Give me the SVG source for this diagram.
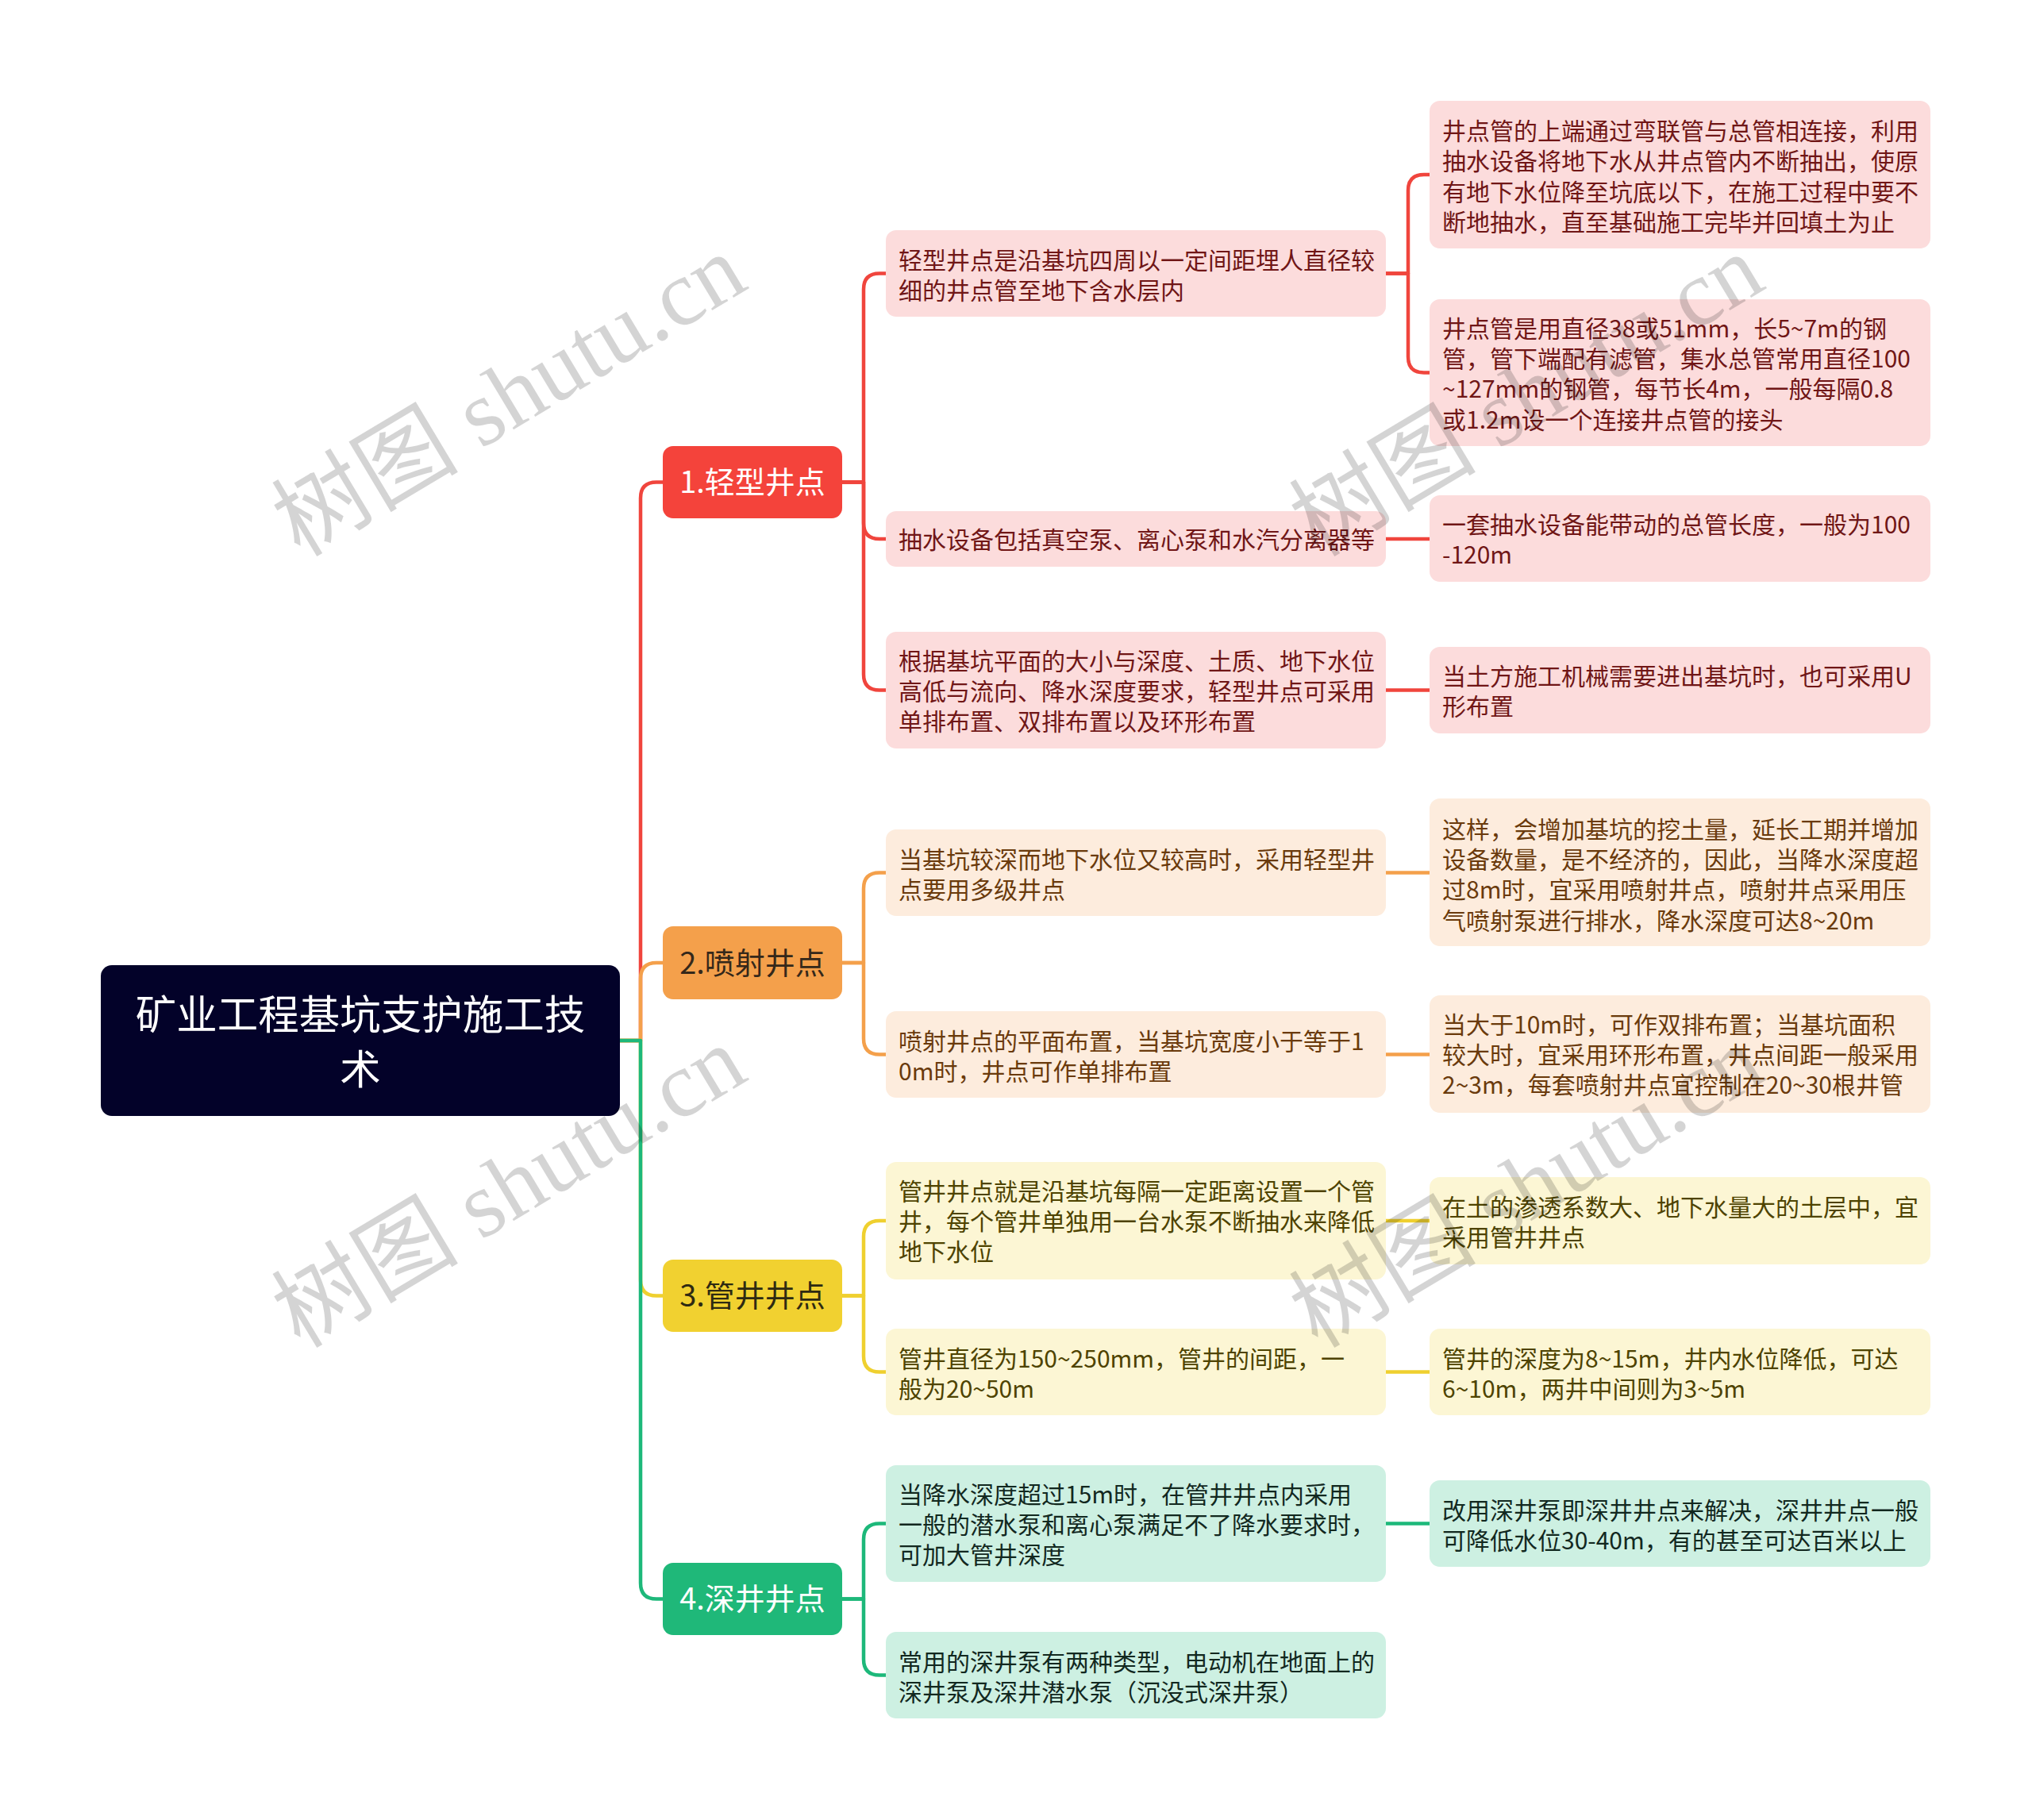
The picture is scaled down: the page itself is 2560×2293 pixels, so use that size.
<svg xmlns="http://www.w3.org/2000/svg" width="2560" height="2293" viewBox="0 0 2560 2293">
<style>
.t{font-family:"Noto Sans CJK SC","Noto Sans",sans-serif;}
.l2{font-size:30px;}
.c1 rect{fill:#fcdcdc;} .c1 text{fill:#701616;}
.c2 rect{fill:#fdecdd;} .c2 text{fill:#6a3a0c;}
.c3 rect{fill:#fcf6d4;} .c3 text{fill:#4e4300;}
.c4 rect{fill:#cdf0e2;} .c4 text{fill:#12281f;}
.ln{fill:none;stroke-width:4.5;stroke-linejoin:round;}
.wm{font-family:"Liberation Serif","Noto Sans CJK SC",serif;font-size:118px;fill:#000;fill-opacity:0.17;}
</style>
<rect width="2560" height="2293" fill="#ffffff"/>
<g id="connectors">
<path class="ln" stroke="#f0453d" d="M781 1311H807V627.5Q807 607.5 827 607.5H835"/>
<path class="ln" stroke="#f4a04b" d="M781 1311H807V1233Q807 1213 827 1213H835"/>
<path class="ln" stroke="#efd02f" d="M781 1311H807V1612.5Q807 1632.5 827 1632.5H835"/>
<path class="ln" stroke="#1db87a" d="M781 1311H807V1994.5Q807 2014.5 827 2014.5H835"/>
<path class="ln" stroke="#f0453d" d="M1061 607.5H1088V364.5Q1088 344.5 1108 344.5H1116"/>
<path class="ln" stroke="#f0453d" d="M1061 607.5H1088V659Q1088 679 1108 679H1116"/>
<path class="ln" stroke="#f0453d" d="M1061 607.5H1088V849.5Q1088 869.5 1108 869.5H1116"/>
<path class="ln" stroke="#f4a04b" d="M1061 1213H1088V1119.5Q1088 1099.5 1108 1099.5H1116"/>
<path class="ln" stroke="#f4a04b" d="M1061 1213H1088V1308.5Q1088 1328.5 1108 1328.5H1116"/>
<path class="ln" stroke="#efd02f" d="M1061 1632.5H1088V1558Q1088 1538 1108 1538H1116"/>
<path class="ln" stroke="#efd02f" d="M1061 1632.5H1088V1708.5Q1088 1728.5 1108 1728.5H1116"/>
<path class="ln" stroke="#1db87a" d="M1061 2014.5H1088V1939.5Q1088 1919.5 1108 1919.5H1116"/>
<path class="ln" stroke="#1db87a" d="M1061 2014.5H1088V2090.5Q1088 2110.5 1108 2110.5H1116"/>
<path class="ln" stroke="#f0453d" d="M1746 344.5H1774V240Q1774 220 1794 220H1801"/>
<path class="ln" stroke="#f0453d" d="M1746 344.5H1774V449.5Q1774 469.5 1794 469.5H1801"/>
<path class="ln" stroke="#f0453d" d="M1746 679H1801"/>
<path class="ln" stroke="#f0453d" d="M1746 869.5H1801"/>
<path class="ln" stroke="#f4a04b" d="M1746 1099.5H1801"/>
<path class="ln" stroke="#f4a04b" d="M1746 1328.5H1801"/>
<path class="ln" stroke="#efd02f" d="M1746 1538H1801"/>
<path class="ln" stroke="#efd02f" d="M1746 1728.5H1801"/>
<path class="ln" stroke="#1db87a" d="M1746 1919.5H1801"/>
</g>
<g id="root">
<rect x="127" y="1216" width="654" height="190" rx="14" fill="#030229"/>
<text class="t" x="454" y="1297" font-size="51.5" fill="#ffffff" text-anchor="middle">矿业工程基坑支护施工技</text>
<text class="t" x="454" y="1366" font-size="51.5" fill="#ffffff" text-anchor="middle">术</text>
</g>
<g id="n1">
<rect x="835" y="562" width="226" height="91" rx="13" fill="#f4433b"/>
<text class="t" x="948" y="621" font-size="38" fill="#ffffff" text-anchor="middle">1.轻型井点</text>
</g>
<g id="n2">
<rect x="835" y="1167" width="226" height="92" rx="13" fill="#f4a04b"/>
<text class="t" x="948" y="1227" font-size="38" fill="#35281a" text-anchor="middle">2.喷射井点</text>
</g>
<g id="n3">
<rect x="835" y="1587" width="226" height="91" rx="13" fill="#f1d130"/>
<text class="t" x="948" y="1646" font-size="38" fill="#2e2a12" text-anchor="middle">3.管井井点</text>
</g>
<g id="n4">
<rect x="835" y="1969" width="226" height="91" rx="13" fill="#1fb879"/>
<text class="t" x="948" y="2028" font-size="38" fill="#ffffff" text-anchor="middle">4.深井井点</text>
</g>
<g class="t l2 c1">
<g id="a1"><rect x="1116" y="290" width="630" height="109" rx="13"/>
<text x="1132" y="339">轻型井点是沿基坑四周以一定间距埋人直径较</text>
<text x="1132" y="377">细的井点管至地下含水层内</text></g>
<g id="a2"><rect x="1116" y="644" width="630" height="70" rx="13"/>
<text x="1132" y="691">抽水设备包括真空泵、离心泵和水汽分离器等</text></g>
<g id="a3"><rect x="1116" y="796" width="630" height="147" rx="13"/>
<text x="1132" y="844">根据基坑平面的大小与深度、土质、地下水位</text>
<text x="1132" y="882">高低与流向、降水深度要求，轻型井点可采用</text>
<text x="1132" y="920">单排布置、双排布置以及环形布置</text></g>
<g id="r1a"><rect x="1801" y="127" width="631" height="186" rx="13"/>
<text x="1817" y="176">井点管的上端通过弯联管与总管相连接，利用</text>
<text x="1817" y="214">抽水设备将地下水从井点管内不断抽出，使原</text>
<text x="1817" y="253">有地下水位降至坑底以下，在施工过程中要不</text>
<text x="1817" y="291">断地抽水，直至基础施工完毕并回填土为止</text></g>
<g id="r1b"><rect x="1801" y="377" width="631" height="185" rx="13"/>
<text x="1817" y="425">井点管是用直径38或51mm，长5~7m的钢</text>
<text x="1817" y="463">管，管下端配有滤管，集水总管常用直径100</text>
<text x="1817" y="501">~127mm的钢管，每节长4m，一般每隔0.8</text>
<text x="1817" y="540">或1.2m设一个连接井点管的接头</text></g>
<g id="r2"><rect x="1801" y="624" width="631" height="109" rx="13"/>
<text x="1817" y="672">一套抽水设备能带动的总管长度，一般为100</text>
<text x="1817" y="710">-120m</text></g>
<g id="r3"><rect x="1801" y="815" width="631" height="109" rx="13"/>
<text x="1817" y="863">当土方施工机械需要进出基坑时，也可采用U</text>
<text x="1817" y="901">形布置</text></g>
</g>
<g class="t l2 c2">
<g id="b1"><rect x="1116" y="1045" width="630" height="109" rx="13"/>
<text x="1132" y="1094">当基坑较深而地下水位又较高时，采用轻型井</text>
<text x="1132" y="1132">点要用多级井点</text></g>
<g id="b2"><rect x="1116" y="1274" width="630" height="109" rx="13"/>
<text x="1132" y="1323">喷射井点的平面布置，当基坑宽度小于等于1</text>
<text x="1132" y="1361">0m时，井点可作单排布置</text></g>
<g id="rb1"><rect x="1801" y="1006" width="631" height="186" rx="13"/>
<text x="1817" y="1056">这样，会增加基坑的挖土量，延长工期并增加</text>
<text x="1817" y="1094">设备数量，是不经济的，因此，当降水深度超</text>
<text x="1817" y="1132">过8m时，宜采用喷射井点，喷射井点采用压</text>
<text x="1817" y="1171">气喷射泵进行排水，降水深度可达8~20m</text></g>
<g id="rb2"><rect x="1801" y="1254" width="631" height="148" rx="13"/>
<text x="1817" y="1302">当大于10m时，可作双排布置；当基坑面积</text>
<text x="1817" y="1340">较大时，宜采用环形布置，井点间距一般采用</text>
<text x="1817" y="1378">2~3m，每套喷射井点宜控制在20~30根井管</text></g>
</g>
<g class="t l2 c3">
<g id="c1"><rect x="1116" y="1464" width="630" height="148" rx="13"/>
<text x="1132" y="1512">管井井点就是沿基坑每隔一定距离设置一个管</text>
<text x="1132" y="1550">井，每个管井单独用一台水泵不断抽水来降低</text>
<text x="1132" y="1588">地下水位</text></g>
<g id="c2"><rect x="1116" y="1674" width="630" height="109" rx="13"/>
<text x="1132" y="1723">管井直径为150~250mm，管井的间距，一</text>
<text x="1132" y="1761">般为20~50m</text></g>
<g id="rc1"><rect x="1801" y="1483" width="631" height="110" rx="13"/>
<text x="1817" y="1532">在土的渗透系数大、地下水量大的土层中，宜</text>
<text x="1817" y="1570">采用管井井点</text></g>
<g id="rc2"><rect x="1801" y="1674" width="631" height="109" rx="13"/>
<text x="1817" y="1723">管井的深度为8~15m，井内水位降低，可达</text>
<text x="1817" y="1761">6~10m，两井中间则为3~5m</text></g>
</g>
<g class="t l2 c4">
<g id="d1"><rect x="1116" y="1846" width="630" height="147" rx="13"/>
<text x="1132" y="1894">当降水深度超过15m时，在管井井点内采用</text>
<text x="1132" y="1932">一般的潜水泵和离心泵满足不了降水要求时，</text>
<text x="1132" y="1970">可加大管井深度</text></g>
<g id="d2"><rect x="1116" y="2056" width="630" height="109" rx="13"/>
<text x="1132" y="2105">常用的深井泵有两种类型，电动机在地面上的</text>
<text x="1132" y="2143">深井泵及深井潜水泵（沉没式深井泵）</text></g>
<g id="rd1"><rect x="1801" y="1865" width="631" height="109" rx="13"/>
<text x="1817" y="1914">改用深井泵即深井井点来解决，深井井点一般</text>
<text x="1817" y="1952">可降低水位30-40m，有的甚至可达百米以上</text></g>
</g>
<g id="watermarks">
<text class="wm" transform="translate(378 703) rotate(-31)">树图 shutu.cn</text>
<text class="wm" transform="translate(378 1700) rotate(-31)">树图 shutu.cn</text>
<text class="wm" transform="translate(1660 703) rotate(-31)">树图 shutu.cn</text>
<text class="wm" transform="translate(1660 1700) rotate(-31)">树图 shutu.cn</text>
</g>
</svg>
